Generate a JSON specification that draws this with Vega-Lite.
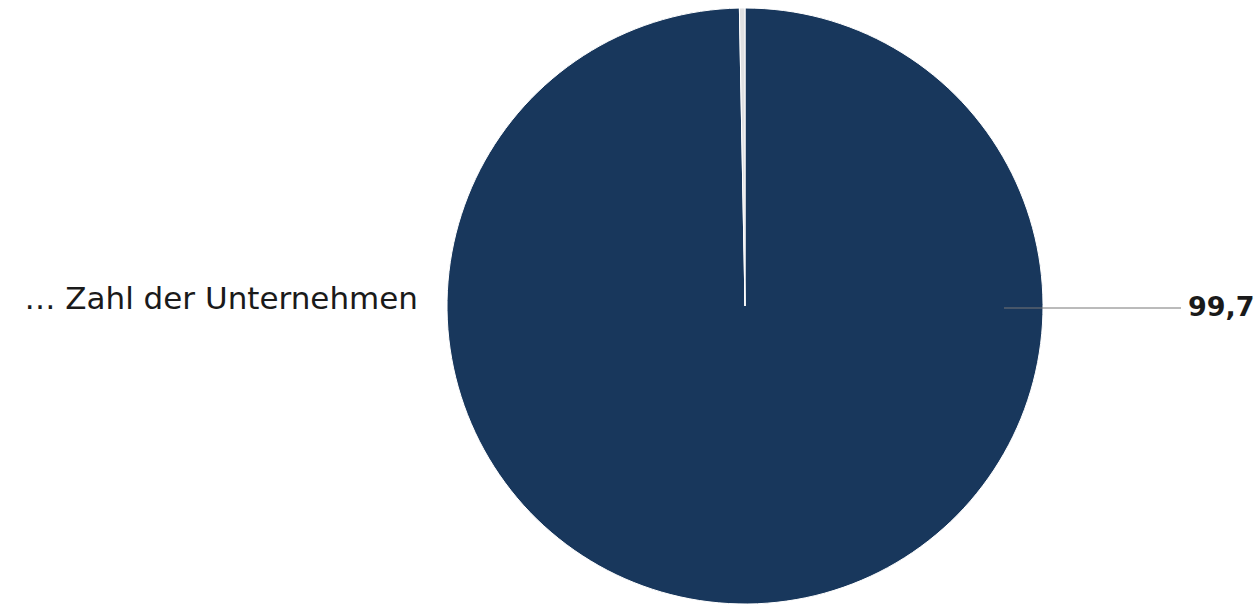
{
  "$schema": "https://vega.github.io/schema/vega-lite/v6.json",
  "autosize": {"type": "none"},
  "width": 1022,
  "height": 600,
  "padding": {"left": 234, "right": 0, "top": 6, "bottom": 0},
  "background": "white",
  "config": {"view": {"stroke": null}},
  "layer": [
    {
      "data": {"values": [
        {"kategorie": "KMU", "anteil": 99.7, "ord": 1},
        {"kategorie": "Großunternehmen", "anteil": 0.3, "ord": 2}
      ]},
      "mark": {"type": "arc", "outerRadius": 298, "stroke": "white", "strokeWidth": 1},
      "encoding": {
        "theta": {"field": "anteil", "type": "quantitative", "stack": true},
        "order": {"field": "ord", "type": "quantitative"},
        "color": {"field": "kategorie", "type": "nominal", "legend": null,
          "scale": {"domain": ["KMU", "Großunternehmen"], "range": ["#18375c", "#dfe0e2"]}}
      }
    },
    {
      "data": {"values": [{"x1": 259, "x2": 436, "y": -2}]},
      "mark": {"type": "rule", "color": "#777777", "strokeWidth": 1},
      "encoding": {
        "x": {"field": "x1", "type": "quantitative", "scale": {"domain": [-511, 511], "nice": false, "zero": false}, "axis": null},
        "x2": {"field": "x2"},
        "y": {"field": "y", "type": "quantitative", "scale": {"domain": [-300, 300], "nice": false, "zero": false}, "axis": null}
      }
    },
    {
      "data": {"values": [{"x": 443, "y": -2, "t": "99,7"}]},
      "mark": {"type": "text", "align": "left", "baseline": "middle", "font": "DejaVu Sans", "fontWeight": "bold", "fontSize": 27, "color": "#1a1a1a"},
      "encoding": {
        "x": {"field": "x", "type": "quantitative", "scale": {"domain": [-511, 511], "nice": false, "zero": false}, "axis": null},
        "y": {"field": "y", "type": "quantitative", "scale": {"domain": [-300, 300], "nice": false, "zero": false}, "axis": null},
        "text": {"field": "t"}
      }
    },
    {
      "data": {"values": [{"x": -327, "y": 6, "t": "… Zahl der Unternehmen"}]},
      "mark": {"type": "text", "align": "right", "baseline": "middle", "font": "DejaVu Sans", "fontSize": 31, "color": "#1a1a1a"},
      "encoding": {
        "x": {"field": "x", "type": "quantitative", "scale": {"domain": [-511, 511], "nice": false, "zero": false}, "axis": null},
        "y": {"field": "y", "type": "quantitative", "scale": {"domain": [-300, 300], "nice": false, "zero": false}, "axis": null},
        "text": {"field": "t"}
      }
    }
  ]
}
